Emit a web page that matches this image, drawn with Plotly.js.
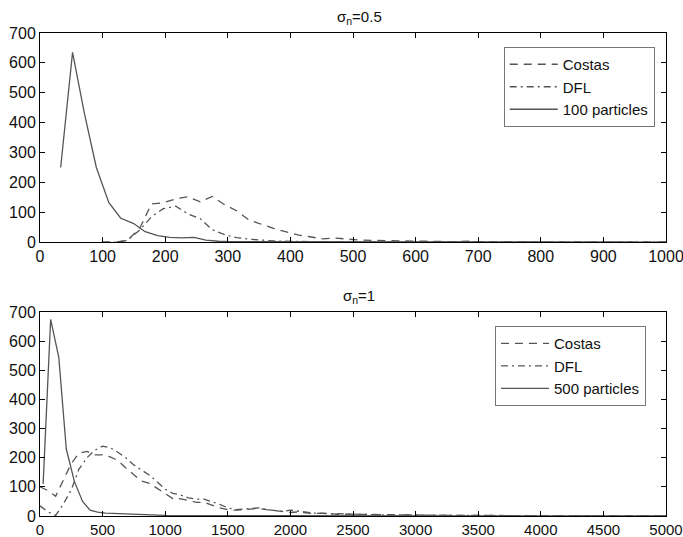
<!DOCTYPE html>
<html>
<head>
<meta charset="utf-8">
<script src="https://cdn.plot.ly/plotly-3.0.1.min.js"></script>
<style>html,body{margin:0;padding:0;background:#fff;}#chart{width:683px;height:537px;}</style>
</head>
<body>
<div id="chart"></div>
<script>
// ---- Top panel (sigma_n = 0.5) ----
const topTitle = "σ<sub>n</sub>=0.5";
const topParticlesName = "100 particles";
const topPartX = [33, 52, 71, 90, 110, 129, 149, 168, 188, 207, 226, 246, 265, 285, 304, 324, 343, 363, 400, 500, 600, 700, 800, 900, 1000];
const topPartY = [250, 635, 430, 250, 132, 80, 63, 35, 22, 16, 14, 16, 7, 3, 2, 2, 1, 1, 0, 0, 0, 0, 0, 0, 0];
const topGridX = [100, 120, 139, 159, 178, 197, 217, 236, 256, 275, 295, 314, 334, 353, 373, 392, 412, 431, 451, 470, 490, 509, 529, 548, 568, 587, 607, 626, 646, 665, 685, 704, 724, 743, 763, 782, 802, 900, 1000];
const topCostasY = [0, 0, 5, 45, 128, 132, 145, 152, 135, 153, 125, 105, 74, 60, 46, 35, 24, 18, 11, 14, 10, 7, 6, 5, 4, 4, 3, 3, 2, 2, 3, 1, 2, 1, 1, 0, 0, 0, 0];
const topDflY    = [0, 0, 5, 40, 85, 112, 120, 95, 78, 42, 25, 15, 10, 6, 4, 3, 2, 1, 1, 1, 0, 0, 0, 0, 0, 0, 0, 0, 0, 0, 0, 0, 0, 0, 0, 0, 0, 0, 0];

// ---- Bottom panel (sigma_n = 1) ----
const botTitle = "σ<sub>n</sub>=1";
const botParticlesName = "500 particles";
const botPartX = [25, 85, 150, 210, 275, 340, 400, 460, 525, 590, 650, 710, 775, 900, 1000, 1200, 1500, 2000, 2500, 3000, 3500, 4000, 4500, 5000];
const botPartY = [110, 675, 545, 230, 118, 50, 20, 13, 10, 9, 7, 5, 4, 3, 2, 1, 1, 0, 0, 0, 0, 0, 0, 0];
const botGridX = [0, 60, 125, 185, 250, 310, 375, 435, 500, 560, 625, 685, 750, 810, 875, 935, 1000, 1060, 1125, 1185, 1250, 1310, 1375, 1435, 1500, 1560, 1625, 1685, 1750, 1810, 1875, 1935, 2000, 2060, 2125, 2185, 2250, 2310, 2375, 2500, 2625, 2750, 2875, 3000, 3250, 3500, 3750, 4000, 4250, 4500, 4750, 5000];
const botCostasY = [100, 88, 68, 120, 180, 215, 222, 210, 210, 203, 190, 165, 140, 120, 112, 95, 75, 60, 59, 52, 47, 47, 38, 28, 22, 20, 22, 25, 26, 22, 18, 15, 12, 14, 10, 8, 10, 7, 6, 6, 5, 4, 3, 3, 2, 2, 1, 1, 1, 0, 0, 0];
const botDflY    = [35, 15, 2, 40, 90, 160, 200, 225, 240, 235, 218, 200, 175, 158, 140, 118, 92, 78, 72, 62, 58, 58, 50, 40, 28, 22, 24, 27, 28, 22, 18, 16, 20, 17, 12, 10, 9, 8, 8, 6, 5, 4, 4, 3, 2, 2, 1, 1, 1, 1, 0, 0];

const FONT = "Liberation Sans, Arial, Helvetica, sans-serif";
const C = "#555";
const dashStyle = "8px,6px";
const dashDot = "7px,4px,2px,4px";

const traces = [
  {x: topGridX, y: topCostasY, name: "Costas", mode: "lines", xaxis: "x", yaxis: "y",
   line: {color: C, width: 1.3, dash: dashStyle}, legend: "legend"},
  {x: topGridX, y: topDflY, name: "DFL", mode: "lines", xaxis: "x", yaxis: "y",
   line: {color: C, width: 1.3, dash: dashDot}, legend: "legend"},
  {x: topPartX, y: topPartY, name: topParticlesName, mode: "lines", xaxis: "x", yaxis: "y",
   line: {color: C, width: 1.3}, legend: "legend"},
  {x: botGridX, y: botCostasY, name: "Costas", mode: "lines", xaxis: "x2", yaxis: "y2",
   line: {color: C, width: 1.3, dash: dashStyle}, legend: "legend2"},
  {x: botGridX, y: botDflY, name: "DFL", mode: "lines", xaxis: "x2", yaxis: "y2",
   line: {color: C, width: 1.3, dash: dashDot}, legend: "legend2"},
  {x: botPartX, y: botPartY, name: botParticlesName, mode: "lines", xaxis: "x2", yaxis: "y2",
   line: {color: C, width: 1.3}, legend: "legend2"}
];

const axBase = {
  showgrid: false, zeroline: false, showline: true, linecolor: "#000", linewidth: 1,
  mirror: "allticks", ticks: "inside", ticklen: 5, tickcolor: "#000", tickwidth: 1,
  tickfont: {family: FONT, size: 16, color: "#111"}, fixedrange: true,
  ticklabeloverflow: "allow"
};

const topDomain = [0.567, 1];
const botDomain = [0, 0.422];

const legBase = {
  font: {family: FONT, size: 15, color: "#111"}, bgcolor: "#fff",
  bordercolor: "#777", borderwidth: 1, xanchor: "right", yanchor: "top",
  tracegroupgap: 0, itemwidth: 48
};

const layout = {
  width: 683, height: 537,
  margin: {l: 40, r: 17, t: 33, b: 21},
  paper_bgcolor: "#fff", plot_bgcolor: "#fff",
  showlegend: true,
  xaxis: Object.assign({}, axBase, {domain: [0, 1], anchor: "y", range: [0, 1000], tickvals: [0,100,200,300,400,500,600,700,800,900,1000]}),
  yaxis: Object.assign({}, axBase, {domain: topDomain, anchor: "x", range: [0, 700], tickvals: [0,100,200,300,400,500,600,700]}),
  xaxis2: Object.assign({}, axBase, {domain: [0, 1], anchor: "y2", range: [0, 5000], tickfont: {family: FONT, size: 15, color: "#111"}, tickvals: [0,500,1000,1500,2000,2500,3000,3500,4000,4500,5000]}),
  yaxis2: Object.assign({}, axBase, {domain: botDomain, anchor: "x2", range: [0, 700], tickvals: [0,100,200,300,400,500,600,700]}),
  legend: Object.assign({}, legBase, {x: 0.982, y: 0.971}),
  legend2: Object.assign({}, legBase, {x: 0.968, y: 0.393}),
  annotations: [
    {text: topTitle, xref: "paper", yref: "paper", x: 0.51, y: 1, xanchor: "center", yanchor: "bottom",
     yshift: 4, showarrow: false, font: {family: FONT, size: 15, color: "#111"}},
    {text: botTitle, xref: "paper", yref: "paper", x: 0.51, y: botDomain[1], xanchor: "center", yanchor: "bottom",
     yshift: 4, showarrow: false, font: {family: FONT, size: 15, color: "#111"}}
  ]
};

Plotly.newPlot("chart", traces, layout, {staticPlot: true, displayModeBar: false});
</script>
</body>
</html>
